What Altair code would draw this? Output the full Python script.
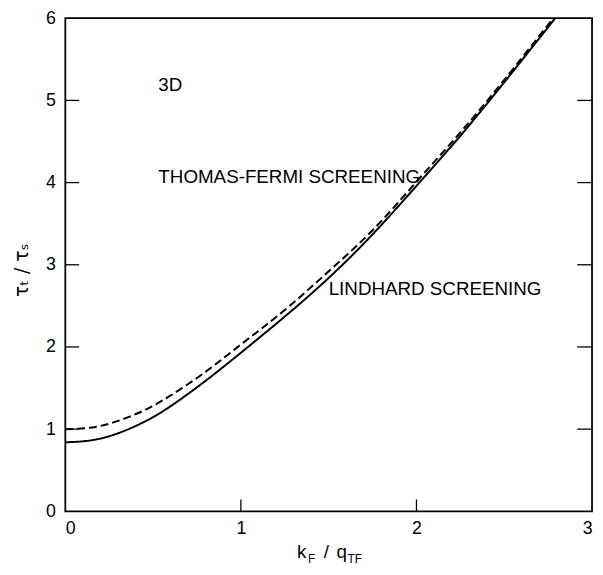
import altair as alt
import pandas as pd

# data
kf_qtf = [0, 0.15, 0.3, 0.45, 0.6, 0.8, 1.0, 1.25, 1.5, 1.75, 2.0, 2.25, 2.5, 2.79]
lindhard = [0.84, 0.865, 0.95, 1.09, 1.28, 1.59, 1.93, 2.37, 2.84, 3.37, 3.96, 4.57, 5.22, 6.0]
thomas_fermi = [1.0, 1.02, 1.10, 1.23, 1.41, 1.70, 2.03, 2.45, 2.92, 3.42, 4.01, 4.61, 5.25, 6.03]

y_ticks = [1, 2, 3, 4, 5]
x_ticks = [1, 2]

notes_text = ["3D", "THOMAS-FERMI SCREENING", "LINDHARD SCREENING"]
notes_x = [0.53, 0.53, 1.50]
notes_y = [5.19, 4.07, 2.70]

W, H = 533, 499
FONT = "Liberation Sans"
TXL = 14 / W * 3   # tick length along x, in data units
TYL = 12 / H * 6   # tick length along y, in data units

rows = []
for x, a, b in zip(kf_qtf, lindhard, thomas_fermi):
    rows.append({"x": x, "y": a, "s": "Lindhard"})
    rows.append({"x": x, "y": b, "s": "Thomas-Fermi"})
df = pd.DataFrame(rows)

xs = alt.Scale(domain=[0, 3], nice=False, zero=False)
ys = alt.Scale(domain=[0, 6], nice=False, zero=False)

lines = alt.Chart(df).mark_line(color="black", strokeWidth=2, clip=True, interpolate="natural").encode(
    x=alt.X("x:Q", scale=xs, axis=alt.Axis(values=[0, 1, 2, 3], format="d", title=None, domain=False,
                                            ticks=False, grid=False, labelFontSize=18, labelFont=FONT,
                                            labelColor="black", labelPadding=8)),
    y=alt.Y("y:Q", scale=ys, axis=alt.Axis(values=[0, 1, 2, 3, 4, 5, 6], format="d", title=None, domain=False,
                                            ticks=False, grid=False, labelFontSize=18, labelFont=FONT,
                                            labelColor="black", labelPadding=10)),
    strokeDash=alt.StrokeDash("s:N", scale=alt.Scale(domain=["Lindhard", "Thomas-Fermi"],
                                                       range=[[1, 0], [8, 4]]), legend=None),
    detail="s:N",
)

one = alt.Data(values=[{"a": 1}])
frame = alt.Chart(one).mark_rect(fill="white", fillOpacity=0, stroke="black", strokeWidth=1.8).encode(
    x=alt.datum(0, scale=xs), x2=alt.datum(3), y=alt.datum(0, scale=ys), y2=alt.datum(6))

ydf = pd.DataFrame({"v": y_ticks, "a0": 0.0, "a1": TXL, "b0": 3 - TXL * 15 / 14, "b1": 3.0})
xdf = pd.DataFrame({"v": x_ticks, "c0": 0.0, "c1": TYL})
left_ticks = alt.Chart(ydf).mark_rule(color="black", strokeWidth=1.3).encode(
    y=alt.Y("v:Q", scale=ys), x=alt.X("a0:Q", scale=xs), x2="a1:Q")
right_ticks = alt.Chart(ydf).mark_rule(color="black", strokeWidth=1.3).encode(
    y=alt.Y("v:Q", scale=ys), x=alt.X("b0:Q", scale=xs), x2="b1:Q")
bottom_ticks = alt.Chart(xdf).mark_rule(color="black", strokeWidth=1.3).encode(
    x=alt.X("v:Q", scale=xs), y=alt.Y("c0:Q", scale=ys), y2="c1:Q")

ndf = pd.DataFrame({"t": notes_text, "x": notes_x, "y": notes_y})
notes = alt.Chart(ndf).mark_text(align="left", baseline="middle", font=FONT, fontSize=19, color="black").encode(
    x=alt.X("x:Q", scale=xs), y=alt.Y("y:Q", scale=ys), text="t:N")

def label(txt, px, py, size, angle=0):
    return alt.Chart(one).mark_text(text=txt, align="left", baseline="alphabetic", font=FONT,
                                    fontSize=size, color="black", angle=angle).encode(
        x=alt.value(px), y=alt.value(py))

x0 = W / 2 - 32
title_x = (label("k", x0, H + 47, 19)
           + label("F", x0 + 11, H + 52, 12)
           + label("/", x0 + 27, H + 47, 19)
           + label("q", x0 + 40, H + 47, 19)
           + label("TF", x0 + 51, H + 52, 12))

title_y = alt.Chart(one).mark_text(text="τₜ / τₛ", align="center", baseline="middle", font="DejaVu Sans",
                                   fontSize=19, color="black", angle=270).encode(
    x=alt.value(-44), y=alt.value(255))

chart = alt.layer(lines, frame, left_ticks, right_ticks, bottom_ticks, notes, title_x, title_y).properties(
    width=W, height=H,
    background="white",
    autosize=alt.AutoSizeParams(type="none"),
    padding={"left": 58, "top": 7, "right": 3, "bottom": 55},
).configure_view(strokeWidth=0)

chart.save("out.html", embed_options={"renderer": "svg", "actions": False})
